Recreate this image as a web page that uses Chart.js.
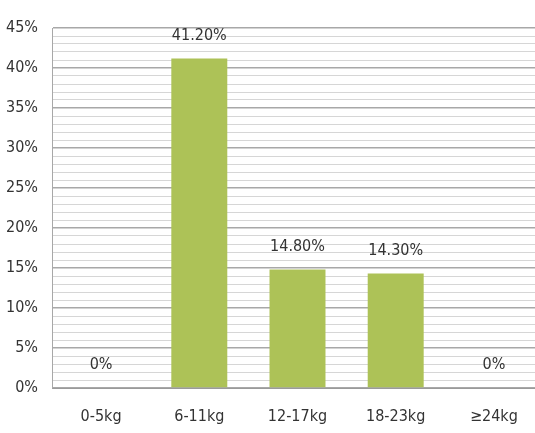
<!DOCTYPE html>
<html>
<head>
<meta charset="utf-8">
<script src="https://cdn.jsdelivr.net/npm/chart.js@4"></script>
<style>
  html, body { margin: 0; padding: 0; background: #ffffff; overflow: hidden; }
  #wrap { width: 545px; height: 433px; }
</style>
</head>
<body>
<div id="wrap"><canvas id="chart" width="545" height="433"></canvas></div>
<script>
// Données du graphique
const categories = ['0-5kg', '6-11kg', '12-17kg', '18-23kg', '≥24kg'];
const values = [0, 41.2, 14.8, 14.3, 0];
const yTicks = [0, 5, 10, 15, 20, 25, 30, 35, 40, 45];

const FONT = '"Liberation Sans Narrow", "DejaVu Sans Condensed", "Open Sans", sans-serif';

// Étiquettes au-dessus des barres
const barLabels = {
    id: 'barLabels',
    afterDatasetsDraw(chart) {
        const ctx = chart.ctx;
        const meta = chart.getDatasetMeta(0);
        ctx.save();
        ctx.font = '16px ' + FONT;
        ctx.fillStyle = '#333333';
        ctx.textAlign = 'center';
        ctx.textBaseline = 'middle';
        meta.data.forEach((bar, i) => {
            const v = values[i];
            const txt = v === 0 ? '0%' : v.toFixed(2) + '%';
            ctx.fillText(txt, bar.x, bar.y - 23);
        });
        ctx.restore();
    }
};

new Chart(document.getElementById('chart'), {
    type: 'bar',
    data: {
        labels: categories,
        datasets: [{
            data: values,
            backgroundColor: '#adc257',
            barPercentage: 0.57,
            categoryPercentage: 1
        }]
    },
    options: {
        responsive: false,
        animation: false,
        layout: { padding: { top: 28, right: 2, left: 0, bottom: 0 } },
        plugins: { legend: { display: false }, tooltip: { enabled: false } },
        scales: {
            x: {
                grid: { display: false, drawTicks: false },
                border: { color: '#9a9a9a', width: 1 },
                ticks: {
                    color: '#333333',
                    font: { family: FONT, size: 16 },
                    padding: 19
                },
                afterFit(scale) { scale.height = 45; }
            },
            y: {
                min: 0,
                max: 45,
                grid: {
                    drawTicks: false,
                    color: ctx => (yTicks.includes(ctx.tick.value) ? '#a8a8a8' : '#d6d6d6'),
                    lineWidth: ctx => (yTicks.includes(ctx.tick.value) ? 1.5 : 1)
                },
                border: { color: '#a8a8a8', width: 1 },
                ticks: {
                    stepSize: 1,
                    autoSkip: false,
                    color: '#333333',
                    font: { family: FONT, size: 16 },
                    padding: 14,
                    callback: v => (yTicks.includes(v) ? v + '%' : '')
                },
                afterFit(scale) { scale.width = 52; }
            }
        }
    },
    plugins: [barLabels]
});
</script>
</body>
</html>
